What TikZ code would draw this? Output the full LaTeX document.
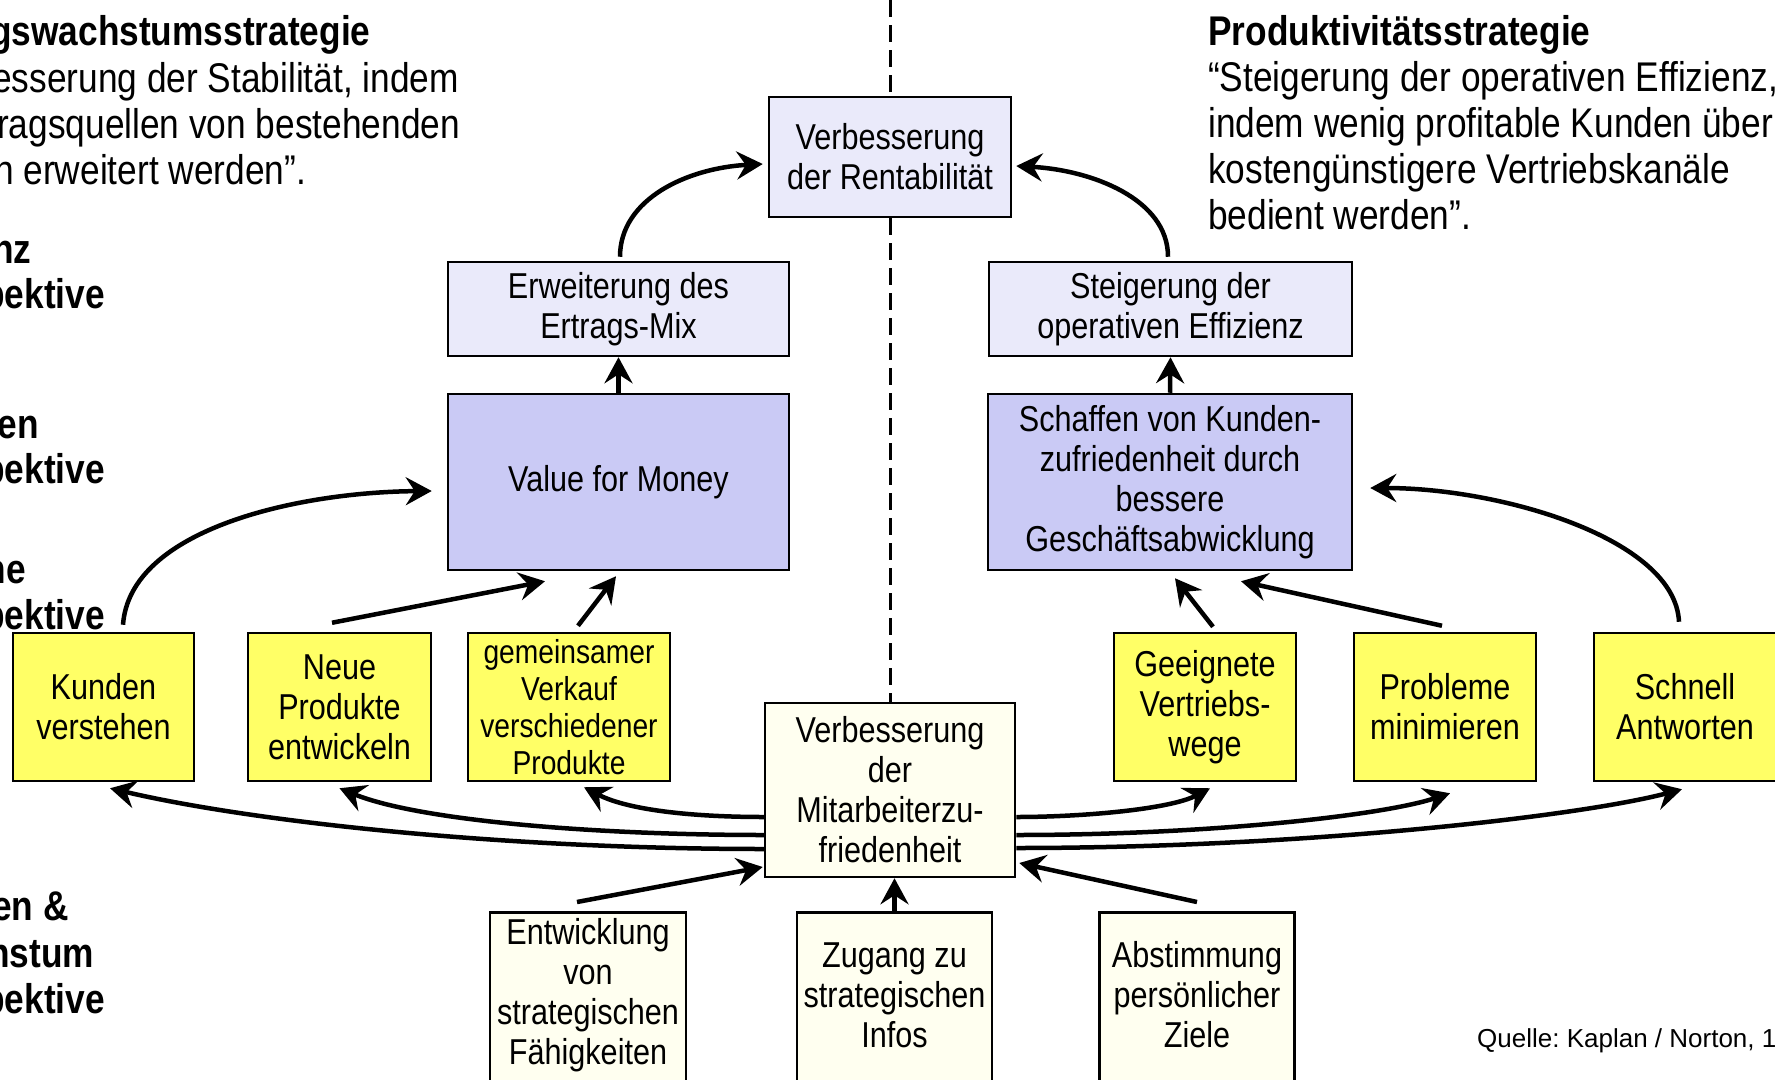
\documentclass[tikz,border=0pt]{standalone}
\usepackage{fontspec}
\setmainfont{Liberation Sans}[FakeStretch=0.85]
\newfontfamily\quellefont{Liberation Sans}
\usetikzlibrary{arrows.meta,calc}
\frenchspacing

\definecolor{lavlight}{RGB}{234,234,250}
\definecolor{lavmid}{RGB}{202,202,245}
\definecolor{signal}{RGB}{255,255,102}
\definecolor{paleivory}{RGB}{255,255,240}

\newcommand\boxsize{\fontsize{36}{40}\selectfont}
\newcommand\smallboxsize{\fontsize{33.2}{37}\selectfont}
\newcommand\headsize{\fontsize{41.5}{46}\selectfont}

\tikzset{
  box/.style={draw=black, line width=2.5pt, inner sep=0pt, align=center, font=\boxsize},
  lav/.style={box, fill=lavlight},
  lavdark/.style={box, fill=lavmid},
  yel/.style={box, fill=signal, minimum height=148pt},
  ivo/.style={box, fill=paleivory},
  boxtext/.style={inner sep=0pt, align=center, font=\boxsize},
  conn/.style={line width=4.5pt, -{Stealth[length=26pt,width=28pt,inset=9pt]}},
  divider/.style={line width=3pt, dash pattern=on 17pt off 8pt},
  headline/.style={inner sep=0pt, font=\headsize},
  perspective/.style={inner sep=0pt, font=\headsize\bfseries},
}

\begin{document}
\begin{tikzpicture}[x=1pt,y=-1pt]
\useasboundingbox (0,0) rectangle (1775,1079);
\fill[white] (0,0) rectangle (1775,1079);

% strategy headers
\node[headline, anchor=base west] (lh1) at (-10,45) {\bfseries gswachstumsstrategie};
\node[headline, anchor=base west] (lh2) at (-8,92) {esserung der Stabilität, indem};
\node[headline, anchor=base west] (lh3) at (-3,138) {ragsquellen von bestehenden};
\node[headline, anchor=base west] (lh4) at (-6,184) {n erweitert werden”.};
\node[headline, anchor=north west, align=left] (rh) at (1208,15)
  {\textbf{Produktivitätsstrategie}\\“Steigerung der operativen Effizienz,\\indem wenig profitable Kunden über\\kostengünstigere Vertriebskanäle\\bedient werden”.};

% perspective labels
\node[perspective, anchor=base west] (pa1) at (-8,263) {nz};
\node[perspective, anchor=base east] (pa2) at (105,308) {pektive};
\node[perspective, anchor=base east] (pb1) at (39,438) {en};
\node[perspective, anchor=base east] (pb2) at (105,483) {pektive};
\node[perspective, anchor=base east] (pc1) at (26,583) {ne};
\node[perspective, anchor=base east] (pc2) at (105,629) {pektive};
\node[perspective, anchor=base west] (pd1) at (-8,920) {en \&};
\node[perspective, anchor=base west] (pd2) at (-12,967) {hstum};
\node[perspective, anchor=base east] (pd3) at (105,1013) {pektive};

% source
\node[inner sep=0pt, anchor=base west, font=\quellefont\fontsize{26}{31}\selectfont] (src) at (1477,1047) {Quelle: Kaplan / Norton, 1};

% boxes
\node[lav, minimum width=242pt, minimum height=120pt] (rent) at (890,157) {Verbesserung\\der Rentabilität};
\node[lav, minimum width=341pt, minimum height=94pt] (erw) at (618.5,309) {Erweiterung des\\Ertrags-Mix};
\node[lav, minimum width=363pt, minimum height=94pt] (stg) at (1170.5,309) {Steigerung der\\operativen Effizienz};
\node[lavdark, minimum width=341pt, minimum height=176pt] (val) at (618.5,482) {Value for Money};
\node[lavdark, minimum width=364pt, minimum height=176pt] (kzf) at (1170,482) {Schaffen von Kunden-\\zufriedenheit durch\\bessere\\Geschäftsabwicklung};

\node[yel, minimum width=181pt] (kun) at (103.5,707) {Kunden\\verstehen};
\node[yel, minimum width=183pt] (neu) at (339.5,707) {Neue\\Produkte\\entwickeln};
\node[yel, minimum width=202pt, font=\smallboxsize] (gem) at (569,707) {gemeinsamer\\Verkauf\\verschiedener\\Produkte};
\node[yel, minimum width=182pt] (gee) at (1205,707) {Geeignete\\Vertriebs-\\wege};
\node[yel, minimum width=182pt] (prob) at (1445,707) {Probleme\\minimieren};
\node[yel, minimum width=182pt] (schn) at (1685,707) {Schnell\\Antworten};

\node[ivo, minimum width=250pt, minimum height=174pt] (mit) at (890,790) {Verbesserung\\der\\Mitarbeiterzu-\\friedenheit};

\node[ivo, minimum width=196pt, minimum height=200pt, anchor=north] (entbox) at (588,911) {};
\node[boxtext] (entt) at (588,995.5) {Entwicklung\\von\\strategischen\\Fähigkeiten};
\node[ivo, minimum width=195pt, minimum height=200pt, anchor=north] (zugbox) at (894.5,911) {};
\node[boxtext] (zugt) at (894.5,995) {Zugang zu\\strategischen\\Infos};
\node[ivo, minimum width=195pt, minimum height=200pt, anchor=north] (absbox) at (1197,911) {};
\node[boxtext] (abst) at (1197,995) {Abstimmung\\persönlicher\\Ziele};

% dividing line between the two strategies
\coordinate (dtop) at (890,0);
\draw[divider] (dtop) -- (rent.north);
\draw[divider] (rent.south) -- (mit.north);

% financial level
\draw[conn] ([xshift=1.5pt,yshift=4pt]erw.north) .. controls +(0,-58) and +(-75,4) .. ([xshift=-5pt,yshift=-7pt]rent.west);
\draw[conn] ([xshift=-2.5pt,yshift=4pt]stg.north) .. controls +(0,-58) and +(75,4) .. ([xshift=4pt,yshift=-9pt]rent.east);
\draw[conn] (val.north) -- (erw.south);
\draw[conn] (kzf.north) -- (stg.south);

% internal processes to customer level
\draw[conn] ([xshift=19.5pt,yshift=7pt]kun.north) .. controls +(7,-96) and +(-133,1) .. ([xshift=-15pt,yshift=-9pt]val.west);
\draw[conn] ([xshift=-7.5pt,yshift=9pt]neu.north) -- ([xshift=-73.5pt,yshift=-10pt]val.south);
\draw[conn] ([xshift=9pt,yshift=6pt]gem.north) -- ([xshift=-2.5pt,yshift=-5pt]val.south);
\draw[conn] ([xshift=8pt,yshift=5pt]gee.north) -- ([xshift=5pt,yshift=-7pt]kzf.south);
\draw[conn] ([xshift=-3pt,yshift=6pt]prob.north) -- ([xshift=71pt,yshift=-10pt]kzf.south);
\draw[conn] ([xshift=-6pt,yshift=10pt]schn.north) .. controls +(-4,-83) and +(131,0) .. ([xshift=17pt,yshift=-6pt]kzf.east);

% employee satisfaction feeding the processes
\draw[conn] ([yshift=-27pt]mit.west) .. controls +(-64,0) and +(46,24) .. ([xshift=15pt,yshift=-5pt]gem.south);
\draw[conn] ([yshift=-45pt]mit.west) .. controls +(-164,0) and +(81,33) .. ([yshift=-6pt]neu.south);
\draw[conn] ([yshift=-59pt]mit.west) .. controls +(-264,0) and +(140,33) .. ([xshift=6.5pt,yshift=-6pt]kun.south);
\draw[conn] ([yshift=-27pt]mit.east) .. controls +(66,0) and +(-40,21) .. ([xshift=5pt,yshift=-6pt]gee.south);
\draw[conn] ([yshift=-45pt]mit.east) .. controls +(186,0) and +(-70,23) .. ([xshift=5pt,yshift=-11pt]prob.south);
\draw[conn] ([yshift=-58pt]mit.east) .. controls +(286,0) and +(-102,27) .. ([xshift=-3pt,yshift=-7pt]schn.south);

% learning and growth
\draw[conn] ([xshift=-11pt,yshift=9pt]entbox.north) -- ([xshift=-1pt,yshift=-77pt]mit.west);
\draw[conn] (zugbox.north) -- (zugbox.north |- mit.south);
\draw[conn] ([yshift=9pt]absbox.north) -- ([xshift=3pt,yshift=-73pt]mit.east);
\end{tikzpicture}
\end{document}
